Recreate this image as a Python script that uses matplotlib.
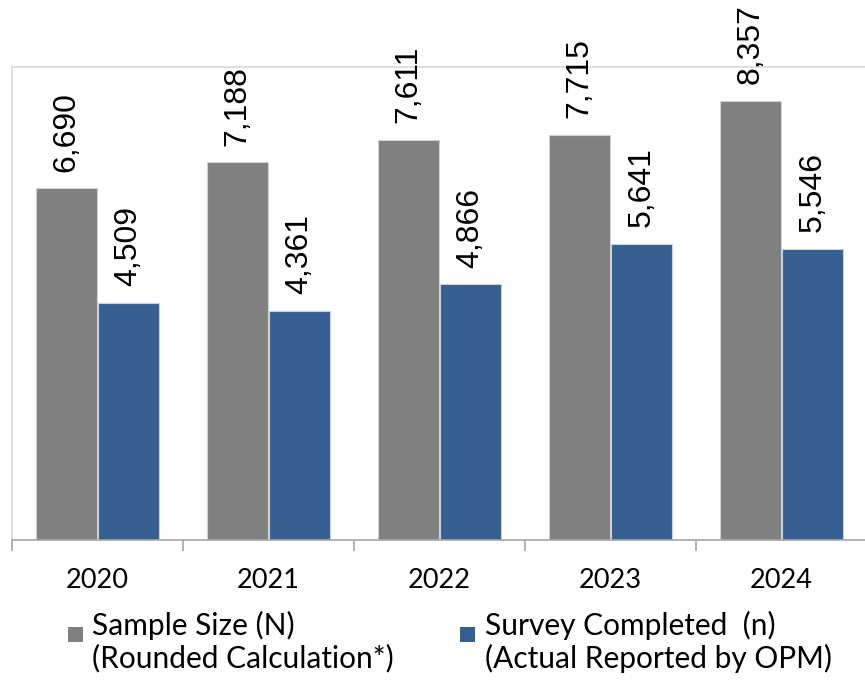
import matplotlib.pyplot as plt
import matplotlib.ticker as mticker
import numpy as np
from matplotlib.patches import Rectangle

years = ["2020", "2021", "2022", "2023", "2024"]
sample_size = [6690, 7188, 7611, 7715, 8357]
survey_completed = [4509, 4361, 4866, 5641, 5546]
legend_labels = ["Sample Size (N)\n(Rounded Calculation*)",
                 "Survey Completed  (n)\n(Actual Reported by OPM)"]

gray = "#808080"
blue = "#365F91"
W, H = 865, 686

fig = plt.figure(figsize=(W / 100, H / 100), dpi=100)
ax = fig.add_axes([12 / W, 146 / H, 855 / W, 473 / H])

x = np.arange(len(years))
w = 0.357
off = 0.18
bars_n = ax.bar(x - off, sample_size, w, color=gray, edgecolor="#d0d0d0", linewidth=0.8)
bars_c = ax.bar(x + off, survey_completed, w, color=blue, edgecolor="#d0d0d0", linewidth=0.8)

for bars in (bars_n, bars_c):
    for b in bars:
        v = b.get_height()
        ax.annotate(f"{v:,.0f}", (b.get_x() + b.get_width() / 2, v),
                    xytext=(0, 12), textcoords="offset points",
                    rotation=90, ha="center", va="bottom",
                    fontsize=23, family="Liberation Sans", clip_on=False)

ax.set_xlim(-0.5, len(years) - 0.5)
ax.set_ylim(0, 9000)
ax.set_yticks([])

ax.set_xticks(x)
ax.set_xticklabels(years, fontsize=19.5, family="Lato")
ax.xaxis.set_minor_locator(mticker.FixedLocator(np.arange(-0.5, len(years), 1)))
ax.tick_params(axis="x", which="major", length=0, pad=20)
ax.tick_params(axis="x", which="minor", length=8, width=1.2, color="#a6a6a6", direction="out")

for s in ("top", "left"):
    ax.spines[s].set_color("#d9d9d9")
    ax.spines[s].set_linewidth(1.2)
ax.spines["right"].set_visible(False)
ax.spines["bottom"].set_color("#a6a6a6")
ax.spines["bottom"].set_linewidth(1.2)

# legend: square key next to the first line of a two-line label
for (kx, tx), color, label in zip([(68, 92), (460, 485)], [gray, blue], legend_labels):
    fig.add_artist(Rectangle((kx / W, 1 - 642 / H), 15 / W, 15 / H,
                             transform=fig.transFigure, facecolor=color, edgecolor="none"))
    fig.text(tx / W, 1 - 611 / H, label, ha="left", va="top",
             family="Lato", fontsize=21.5, linespacing=1.17)

fig.savefig("out.png", dpi=100)
